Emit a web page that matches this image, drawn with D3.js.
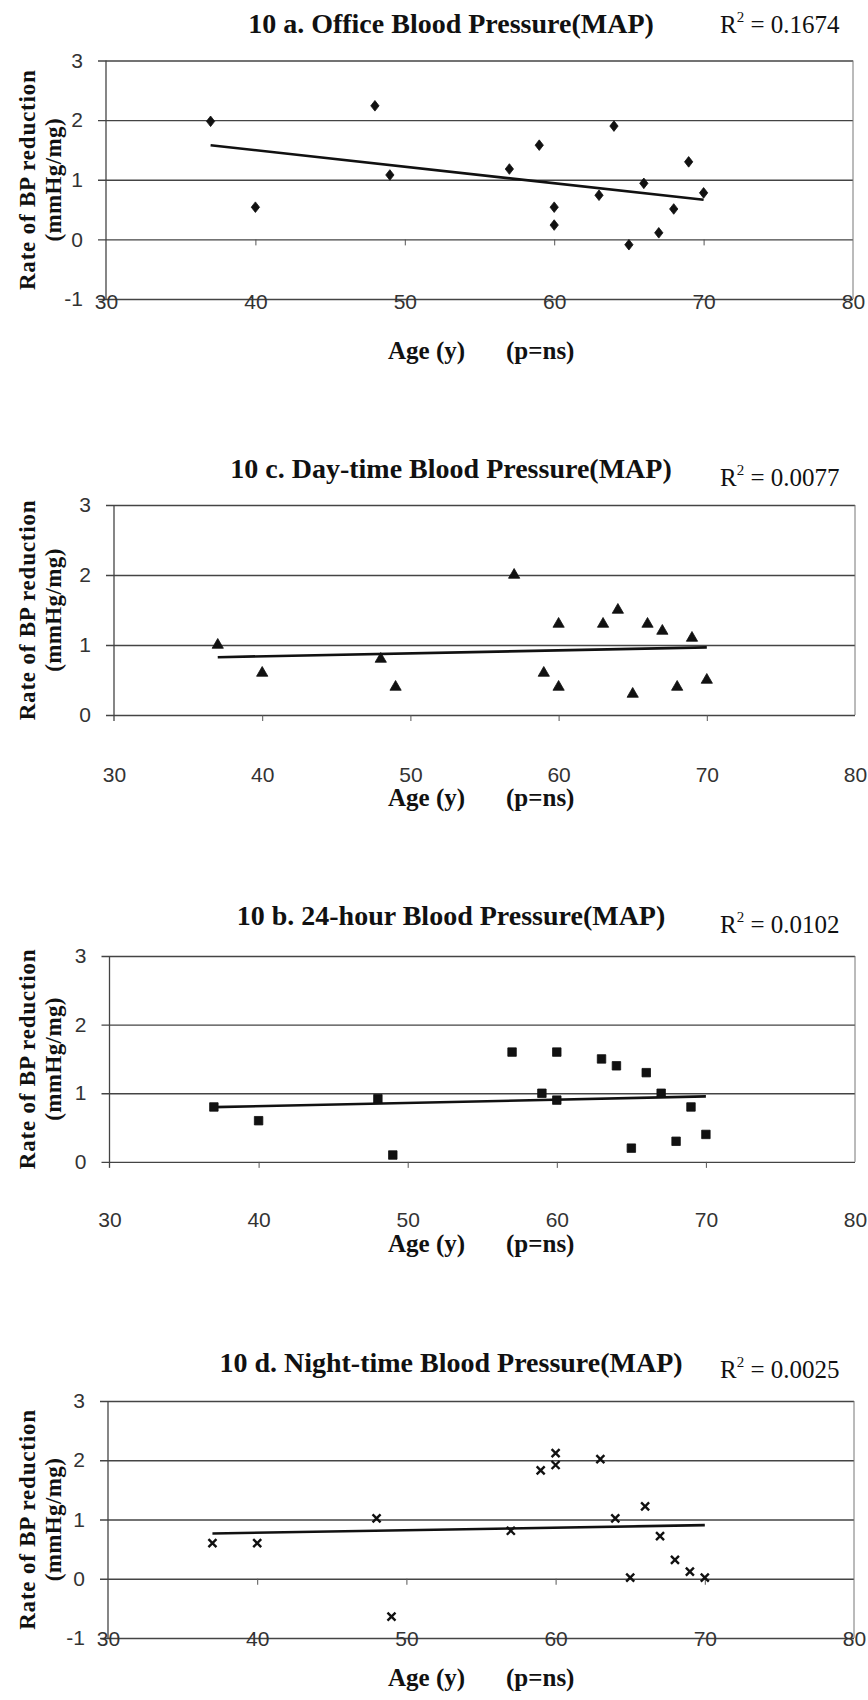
<!DOCTYPE html>
<html>
<head>
<meta charset="utf-8">
<style>
  body { margin: 0; background: #fff; }
  svg { display: block; }
</style>
</head>
<body>
<svg id="chart" width="868" height="1700"></svg>
<script src="https://d3js.org/d3.v7.min.js"></script>
<script>

// ages of the 16 patients (same for every panel)
var ages = [37, 40, 48, 49, 57, 59, 60, 60, 63, 64, 65, 66, 67, 68, 69, 70];

// rate of BP reduction (mmHg/mg)
var officeRate = [1.98, 0.54, 2.24, 1.08, 1.18, 1.58, 0.54, 0.24, 0.74, 1.90, -0.09, 0.94, 0.11, 0.51, 1.30, 0.78];
var dayRate    = [1.0, 0.6, 0.8, 0.4, 2.0, 0.6, 1.3, 0.4, 1.3, 1.5, 0.3, 1.3, 1.2, 0.4, 1.1, 0.5];
var hourRate   = [0.8, 0.6, 0.92, 0.1, 1.6, 1.0, 1.6, 0.9, 1.5, 1.4, 0.2, 1.3, 1.0, 0.3, 0.8, 0.4];
var nightRate  = [0.6, 0.6, 1.02, -0.64, 0.81, 1.83, 2.12, 1.92, 2.02, 1.02, 0.02, 1.22, 0.72, 0.32, 0.12, 0.02];

var titles = ["10 a. Office Blood Pressure(MAP)", "10 c. Day-time Blood Pressure(MAP)",
              "10 b. 24-hour Blood Pressure(MAP)", "10 d. Night-time Blood Pressure(MAP)"];
var r2Labels = ["0.1674", "0.0077", "0.0102", "0.0025"];

var xTicks = [30, 40, 50, 60, 70, 80];
var xMinor = [40, 50, 60, 70];
var yTicksFull = [-1, 0, 1, 2, 3];
var yTicksTop = [0, 1, 2, 3];
var yTitle = ["Rate of BP reduction", "(mmHg/mg)"];
var xTitle = ["Age (y)", "(p=ns)"];

// marker shapes
var tallDiamond = { draw: function(ctx, size) {
  var r = Math.sqrt(size) / 2;
  ctx.moveTo(0, -r * 1.15); ctx.lineTo(r * 0.9, 0); ctx.lineTo(0, r * 1.15); ctx.lineTo(-r * 0.9, 0); ctx.closePath();
}};
var cross = { draw: function(ctx, size) {
  var r = Math.sqrt(size) / 2;
  ctx.moveTo(-r, -r); ctx.lineTo(r, r); ctx.moveTo(-r, r); ctx.lineTo(r, -r);
}};

var panels = [
  {series: officeRate, shape: tallDiamond, size: 85, stroke: false, ticks: yTicksFull,
   left: 106, right: 853, top: 60.5, bottom: 299, titleY: 33, r2Y: 33, labY: 302, xTitleY: 359},
  {series: dayRate, shape: d3.symbolTriangle, size: 55, stroke: false, ticks: yTicksTop,
   left: 114, right: 855, top: 505, bottom: 785, titleY: 478, r2Y: 486, labY: 775, xTitleY: 806},
  {series: hourRate, shape: d3.symbolSquare, size: 72, stroke: false, ticks: yTicksTop,
   left: 109.5, right: 855, top: 956, bottom: 1230.5, titleY: 925, r2Y: 933, labY: 1220, xTitleY: 1252},
  {series: nightRate, shape: cross, size: 64, stroke: true, ticks: yTicksFull,
   left: 108, right: 854, top: 1401, bottom: 1638, titleY: 1372, r2Y: 1378, labY: 1639, xTitleY: 1686}
];

function linreg(xs, ys) {
  var mx = d3.mean(xs), my = d3.mean(ys), sxy = 0, sxx = 0;
  xs.forEach(function(v, i) { sxy += (v - mx) * (ys[i] - my); sxx += (v - mx) * (v - mx); });
  var b = sxy / sxx;
  return function(v) { return my + b * (v - mx); };
}

var svg = d3.select("#chart");
svg.append("rect").attr("width", 868).attr("height", 1700).attr("fill", "#fff");

panels.forEach(function(p, i) {
  var x = d3.scaleLinear().domain([30, 80]).range([p.left, p.right]);
  var y = d3.scaleLinear().domain([-1, 3]).range([p.bottom, p.top]);
  var yLow = d3.min(p.ticks);
  var g = svg.append("g");

  // horizontal gridlines + y tick labels
  g.append("g")
      .attr("transform", "translate(" + p.left + ",0)")
      .call(d3.axisLeft(y).tickValues(p.ticks).tickSize(8).tickPadding(15).tickFormat(String))
      .call(function(a) {
        a.select(".domain").remove();
        a.selectAll(".tick line").attr("x1", -8).attr("x2", p.right - p.left)
          .attr("stroke", "#444").attr("stroke-width", 1.4);
        a.selectAll(".tick text").attr("fill", "#333")
          .style("font-family", "'Liberation Sans', Arial, sans-serif").style("font-size", "21px");
      });

  // small ticks on the x axis (crossing at 0)
  g.append("g")
      .attr("transform", "translate(0," + y(0) + ")")
      .call(d3.axisBottom(x).tickValues(xMinor).tickSize(6).tickFormat(""))
      .call(function(a) {
        a.select(".domain").remove();
        a.selectAll(".tick line").attr("stroke", "#555").attr("stroke-width", 1);
      });

  // x tick labels at the bottom row
  g.append("g")
      .attr("transform", "translate(0," + p.labY + ")")
      .call(d3.axisBottom(x).tickValues(xTicks).tickSize(0).tickPadding(0))
      .call(function(a) {
        a.select(".domain").remove();
        a.selectAll(".tick text").attr("y", 0).attr("dy", "0.35em").attr("fill", "#333")
          .style("font-family", "'Liberation Sans', Arial, sans-serif").style("font-size", "21px");
      });

  // left axis and right border
  var axisBottomY = yLow < 0 ? y(-1) : y(0) + 6;
  g.append("line").attr("x1", x(30)).attr("x2", x(30)).attr("y1", y(3)).attr("y2", axisBottomY)
      .attr("stroke", "#444").attr("stroke-width", 1.3);
  g.append("line").attr("x1", x(80)).attr("x2", x(80)).attr("y1", y(3)).attr("y2", y(yLow))
      .attr("stroke", "#777").attr("stroke-width", 1);

  // trend line
  var fit = linreg(ages, p.series);
  var ext = d3.extent(ages);
  g.append("path")
      .datum(ext)
      .attr("d", d3.line().x(function(d) { return x(d); }).y(function(d) { return y(fit(d)); }))
      .attr("fill", "none").attr("stroke", "#111").attr("stroke-width", 2.6);

  // points
  var sym = d3.symbol().type(p.shape).size(p.size);
  g.selectAll(".pt")
    .data(ages.map(function(a, j) { return [a, p.series[j]]; }))
    .enter().append("path")
      .attr("transform", function(d) { return "translate(" + x(d[0]) + "," + y(d[1]) + ")"; })
      .attr("d", sym)
      .attr("fill", p.stroke ? "none" : "#111")
      .attr("stroke", "#111")
      .attr("stroke-width", p.stroke ? 2.4 : 0.8);

  // title and R²
  g.append("text")
      .attr("x", 451).attr("y", p.titleY).attr("text-anchor", "middle")
      .style("font-family", "'Liberation Serif', 'Times New Roman', serif")
      .style("font-weight", "bold").style("font-size", "28px").attr("fill", "#111")
      .text(titles[i]);

  var r2 = g.append("text")
      .attr("x", 720).attr("y", p.r2Y)
      .style("font-family", "'Liberation Serif', 'Times New Roman', serif")
      .style("font-size", "25px").attr("fill", "#111");
  r2.append("tspan").text("R");
  r2.append("tspan").attr("dy", -11).style("font-size", "15px").text("2");
  r2.append("tspan").attr("dy", 11).text(" = " + r2Labels[i]);

  // y axis title (two lines)
  var cy = (y(3) + y(yLow)) / 2;
  [35, 61].forEach(function(tx, k) {
    g.append("text")
        .attr("transform", "translate(" + tx + "," + cy + ") rotate(-90)")
        .attr("text-anchor", "middle")
        .style("font-family", "'Liberation Serif', 'Times New Roman', serif")
        .style("font-weight", "bold").style("font-size", "23px")
        .style("letter-spacing", k === 0 ? "0.8px" : "0.4px")
        .attr("fill", "#111")
        .text(yTitle[k]);
  });

  // x axis title
  [388, 506].forEach(function(tx, k) {
    g.append("text")
        .attr("x", tx).attr("y", p.xTitleY)
        .style("font-family", "'Liberation Serif', 'Times New Roman', serif")
        .style("font-weight", "bold").style("font-size", "25px")
        .attr("fill", "#111")
        .text(xTitle[k]);
  });
});

</script>
</body>
</html>
